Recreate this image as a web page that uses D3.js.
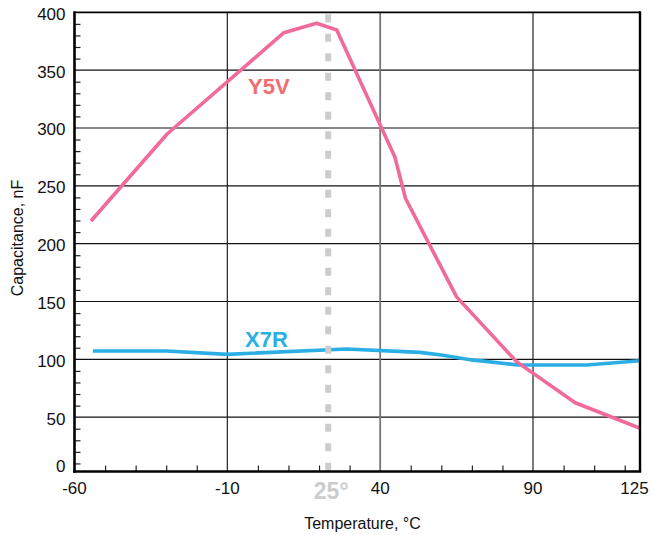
<html>
<head>
  <title>Capacitance vs Temperature</title>
  <script src="https://d3js.org/d3.v7.min.js"></script>
  <style>
    body {
      margin: 0;
      background: #ffffff;
    }

    text {
      font-family: "Liberation Sans", Arial, Helvetica, sans-serif;
    }
  </style>
</head>

<body>
  <svg id="chart" width="652" height="535"></svg>

  <script>
    // tick labels
    const xTicks = [-60, -10, 40, 90, 125];
    const yTicks = [0, 50, 100, 150, 200, 250, 300, 350, 400];

    // Y5V curve: temperature (°C) and capacitance (nF)
    const y5vTemp = [-54.6, -29.7, 8.5, 19.2, 25.8, 44.8, 48.3, 65, 84.6, 103.8, 125];
    const y5vCap = [219.6, 294.8, 382.4, 390.5, 384.7, 275, 239, 154, 98, 62.5, 40.4];

    // X7R curve
    const x7rTemp = [-54, -30, -10, 29, 53, 60, 70, 80, 85, 107.5, 125];
    const x7rCap = [107.2, 107.2, 104.3, 108.9, 106, 103.7, 99.5, 96.6, 95.1, 95.1, 98.8];

    // reference temperature marker
    const markerTemp = 23;
    const markerLabel = "25°";

    const svg = d3.select("#chart");

    const x = d3.scaleLinear().domain([-60, 125]).range([74.5, 640]);
    const y = d3.scaleLinear().domain([0, 400]).range([475, 12.3]);
    const yBase = 3; // x axis sits a touch above zero

    const plotLeft = x(-60), plotRight = x(125), plotTop = y(400), plotBottom = y(yBase);

    // horizontal grid
    svg.append("g")
      .selectAll("line")
      .data(yTicks.filter(v => v > 0 && v < 400))
      .join("line")
      .attr("x1", plotLeft).attr("x2", plotRight)
      .attr("y1", d => y(d)).attr("y2", d => y(d))
      .attr("stroke", "#111")
      .attr("stroke-width", 1.2);

    // vertical grid
    svg.append("g")
      .selectAll("line")
      .data(xTicks.filter(v => v > -60 && v < 125))
      .join("line")
      .attr("x1", d => x(d)).attr("x2", d => x(d))
      .attr("y1", plotTop).attr("y2", plotBottom)
      .attr("stroke", d => d === 40 ? "#777" : "#222")
      .attr("stroke-width", d => d === 40 ? 1.8 : 1.2);

    // minor ticks (every 10 units, inside the plot)
    const xMinor = d3.range(-50, 125, 10).filter(v => !xTicks.includes(v));
    const yMinor = d3.range(10, 400, 10).filter(v => v % 50 !== 0);

    svg.append("g")
      .attr("transform", `translate(0, ${plotBottom})`)
      .call(d3.axisBottom(x).tickValues(xMinor).tickSize(-6).tickFormat(""))
      .call(g => g.select(".domain").remove())
      .selectAll("line").attr("stroke", "#222").attr("stroke-width", 1.2);

    svg.append("g")
      .attr("transform", `translate(${plotLeft}, 0)`)
      .call(d3.axisLeft(y).tickValues(yMinor).tickSize(-6).tickFormat(""))
      .call(g => g.select(".domain").remove())
      .selectAll("line").attr("stroke", "#222").attr("stroke-width", 1.2);

    // curves
    const line = d3.line().x(d => x(d[0])).y(d => y(d[1]));

    svg.append("path")
      .datum(x7rTemp.map((t, i) => [t, x7rCap[i]]))
      .attr("d", line)
      .attr("fill", "none")
      .attr("stroke", "#2BAEE4")
      .attr("stroke-width", 3.6)
      .attr("stroke-linejoin", "round");

    svg.append("path")
      .datum(y5vTemp.map((t, i) => [t, y5vCap[i]]))
      .attr("d", line)
      .attr("fill", "none")
      .attr("stroke", "#F06A9B")
      .attr("stroke-width", 3.6)
      .attr("stroke-linejoin", "round");

    // dashed 25° marker
    svg.append("line")
      .attr("x1", x(markerTemp)).attr("x2", x(markerTemp))
      .attr("y1", plotTop + 2).attr("y2", plotBottom)
      .attr("stroke", "#cccccc")
      .attr("stroke-width", 6)
      .attr("stroke-dasharray", "8,11.5");

    svg.append("text")
      .attr("x", x(markerTemp) + 3)
      .attr("y", 499)
      .attr("text-anchor", "middle")
      .attr("font-size", "23px")
      .attr("font-weight", "bold")
      .attr("fill", "#cccccc")
      .text(markerLabel);

    // frame
    svg.append("line").attr("x1", plotLeft).attr("x2", plotRight).attr("y1", plotTop).attr("y2", plotTop)
      .attr("stroke", "#000").attr("stroke-width", 1.8);
    svg.append("line").attr("x1", plotRight).attr("x2", plotRight).attr("y1", plotTop - 1).attr("y2", plotBottom)
      .attr("stroke", "#000").attr("stroke-width", 2.4);
    svg.append("line").attr("x1", plotLeft).attr("x2", plotLeft).attr("y1", plotTop - 1).attr("y2", plotBottom + 1.3)
      .attr("stroke", "#000").attr("stroke-width", 2.6);
    svg.append("line").attr("x1", plotLeft - 1.3).attr("x2", plotRight + 1.2).attr("y1", plotBottom).attr("y2", plotBottom)
      .attr("stroke", "#000").attr("stroke-width", 2.6);

    // tick labels
    svg.append("g")
      .selectAll("text")
      .data(yTicks)
      .join("text")
      .attr("x", plotLeft - 9)
      .attr("y", d => d === 0 ? plotBottom - 5 : y(d) + 2)
      .attr("text-anchor", "end")
      .attr("dominant-baseline", "central")
      .attr("font-size", "17px")
      .attr("fill", "#111")
      .text(d => d);

    svg.append("g")
      .selectAll("text")
      .data(xTicks)
      .join("text")
      .attr("x", d => Math.min(x(d), 652 - 17.5))
      .attr("y", 494)
      .attr("text-anchor", "middle")
      .attr("font-size", "17px")
      .attr("fill", "#111")
      .text(d => d);

    // series labels
    svg.append("text")
      .attr("x", 248).attr("y", 94)
      .attr("font-size", "22px")
      .attr("font-weight", "bold")
      .attr("fill", "#F26D6D")
      .text("Y5V");

    svg.append("text")
      .attr("x", 245).attr("y", 346.5)
      .attr("font-size", "22px")
      .attr("font-weight", "bold")
      .attr("fill", "#2BAEE4")
      .text("X7R");

    // axis titles
    svg.append("text")
      .attr("x", 362.5).attr("y", 529)
      .attr("text-anchor", "middle")
      .attr("font-size", "16px")
      .attr("fill", "#111")
      .text("Temperature, °C");

    svg.append("text")
      .attr("transform", "translate(23, 238) rotate(-90)")
      .attr("text-anchor", "middle")
      .attr("font-size", "16px")
      .attr("fill", "#111")
      .text("Capacitance, nF");
  </script>
</body>

</html>
